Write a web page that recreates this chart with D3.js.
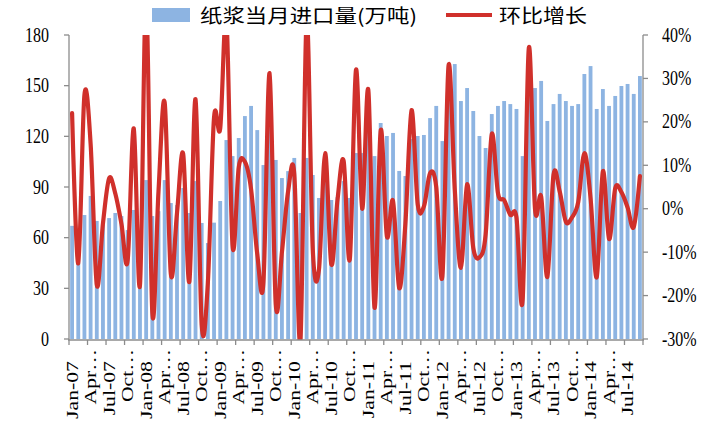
<!DOCTYPE html>
<html><head><meta charset="utf-8">
<script src="https://cdn.jsdelivr.net/npm/d3@7/dist/d3.min.js"></script>
<style>body{margin:0;background:#fff;}</style>
</head><body>
<svg id="chart" width="728" height="421"></svg>
<script>
// ---- data ----
const years = ["07","08","09","10","11","12","13","14"];
const monthNames = ["Jan","Feb","Mar","Apr","May","Jun","Jul","Aug","Sep","Oct","Nov","Dec"];
const pulpImports = [
  67, 58, 73.4, 84.7, 69.9, 67.5, 71.6, 74.6, 72.8, 64.5, 76.4, 63,
  94.1, 72.8, 75.7, 94.1, 80.5, 79.3, 89.4, 74.6, 93.5, 68.7, 56.8, 68.9,
  81.7, 117.8, 108.3, 119, 132, 138, 123.7, 103, 135.1, 106, 95.3, 99.4,
  107.2, 74.6, 107.2, 97.1, 83.5, 94.1, 82.3, 84, 93.5, 83.5, 110.1, 110.1,
  140.2, 108.3, 127.9, 120.2, 122, 99.5, 96.5, 118.4, 120.2, 120.8, 130.8, 138,
  117.2, 156, 162.8, 140.9, 148.6, 135, 120.2, 113.1, 133.2, 138, 140.9, 139.1,
  136.2, 108.3, 148.3, 148.6, 152.8, 129.1, 139.1, 145.1, 140.9, 138, 139.1, 156.9,
  161.6, 136.2, 148, 138, 143.9, 149.8, 151, 145.1, 155.7
];
const momGrowth = [
  22, -12.6, 26.2, 15, -17.5, -3.4, 7, 3.5, -3.5, -12, 18.5, -17.6,
  49, -24, 4, 24.5, -15, -1, 12.6, -16.8, 25.2, -26.8, -17, 21,
  18.5, 44, -8.5, 9.5, 10.8, 4.5, -10.4, -17, 31.2, -22, -10, 4,
  8, -30.3, 43.7, -9.4, -14, 12.8, -12.8, 2, 11, -11.6, 32, 0,
  27.3, -22.8, 18, -6.3, 1.8, -18.3, -3.5, 22.7, 1, 0.5, 8.2, 5,
  -15.5, 33, 4.5, -13.6, 5.6, -9, -11.2, -6, 17.2, 3.6, 2, -1.4,
  -2, -21, 37, 0, 2.8, -15.7, 7.8, 4, -3, -2, 1.5, 12.8,
  2.5, -15.8, 8.6, -7, 4.7, 3.8, 0.3, -4.2, 7.5
];
const xTickLabels = [
  "Jan-07","Apr…","Jul-07","Oct…","Jan-08","Apr…","Jul-08","Oct…",
  "Jan-09","Apr…","Jul-09","Oct…","Jan-10","Apr…","Jul-10","Oct…",
  "Jan-11","Apr…","Jul-11","Oct…","Jan-12","Apr…","Jul-12","Oct…",
  "Jan-13","Apr…","Jul-13","Oct…","Jan-14","Apr…","Jul-14"
];
const leftTicks = [0, 30, 60, 90, 120, 150, 180];
const rightTicks = [-0.3, -0.2, -0.1, 0, 0.1, 0.2, 0.3, 0.4];
const legendLabels = ["纸浆当月进口量(万吨)", "环比增长"];

// ---- build categories ----
const categories = [];
years.forEach(y => monthNames.forEach(m => categories.push(m + "-" + y)));
categories.length = pulpImports.length;

// ---- layout ----
const L = 69, R = 643, T = 35, B = 339;
const svg = d3.select("#chart");
const serif = "'Liberation Serif','Times New Roman',serif";
const axisColor = "#8c8c8c";
const barColor = "#8DB4E2";
const lineColor = "#D0302B";

const x = d3.scaleBand().domain(categories).range([L, R]).paddingInner(0.38).paddingOuter(0.19);
const xc = d => x(d) + x.bandwidth() / 2;
const yL = d3.scaleLinear().domain([0, 180]).range([B, T]);
const yR = d3.scaleLinear().domain([-0.3, 0.4]).range([B, T]);

// bars
svg.append("g").selectAll("rect").data(pulpImports).join("rect")
  .attr("x", (d, i) => x(categories[i]))
  .attr("width", x.bandwidth())
  .attr("y", d => yL(d))
  .attr("height", d => yL(0) - yL(d))
  .attr("fill", barColor);

// clip for line
svg.append("clipPath").attr("id", "plotclip").append("rect")
  .attr("x", L).attr("y", T).attr("width", R - L).attr("height", B - T + 1);

const line = d3.line()
  .x((d, i) => xc(categories[i]))
  .y(d => yR(d / 100))
  .curve(d3.curveCardinal.tension(0));
svg.append("path").datum(momGrowth)
  .attr("clip-path", "url(#plotclip)")
  .attr("d", line)
  .attr("fill", "none")
  .attr("stroke", lineColor)
  .attr("stroke-width", 4.2)
  .attr("stroke-linejoin", "round")
  .attr("stroke-linecap", "round");

// axes lines
const ax = svg.append("g").attr("stroke", axisColor).attr("stroke-width", 1.3).attr("fill", "none");
ax.append("line").attr("x1", L).attr("x2", L).attr("y1", T).attr("y2", B + 1);
ax.append("line").attr("x1", R).attr("x2", R).attr("y1", T).attr("y2", B + 1);
ax.append("line").attr("x1", L - 1).attr("x2", R + 1).attr("y1", B + 1).attr("y2", B + 1);

leftTicks.forEach(v => {
  ax.append("line").attr("x1", L - 5).attr("x2", L).attr("y1", yL(v)).attr("y2", yL(v));
});
rightTicks.forEach(v => {
  ax.append("line").attr("x1", R).attr("x2", R + 5).attr("y1", yR(v)).attr("y2", yR(v));
});
for (let k = 0; k <= categories.length; k += 3) {
  const px = L + (R - L) * k / categories.length;
  ax.append("line").attr("x1", px).attr("x2", px).attr("y1", B + 1).attr("y2", B + 6);
}

const sy = 1.3;
svg.append("g").selectAll("text").data(leftTicks).join("text")
  .attr("transform", d => `translate(49,${yL(d) + 6.5}) scale(1,${sy})`)
  .attr("text-anchor", "end")
  .attr("font-family", serif).attr("font-size", 16).attr("fill", "#000")
  .text(d => d);
svg.append("g").selectAll("text").data(rightTicks).join("text")
  .attr("transform", d => `translate(662,${yR(d) + 6.5}) scale(1,${sy})`)
  .attr("text-anchor", "start")
  .attr("font-family", serif).attr("font-size", 16).attr("fill", "#000")
  .text(d => Math.round(d * 100) + "%");

svg.append("g").selectAll("text").data(xTickLabels).join("text")
  .attr("transform", (d, i) => {
    const cx = xc(categories[i * 3]);
    const top = d.indexOf("…") >= 0 ? 349 : 361;
    return `translate(${cx + 5.5},${top}) rotate(-90) scale(1.36,1)`;
  })
  .attr("text-anchor", "end")
  .attr("font-family", serif).attr("font-size", 16).attr("fill", "#000")
  .text(d => d);

// legend
const lg = svg.append("g");
lg.append("rect").attr("x", 152).attr("y", 8).attr("width", 38).attr("height", 14).attr("fill", barColor);
lg.append("text").attr("x", 200).attr("y", 23)
  .attr("font-family", "'Noto Sans CJK SC',sans-serif").attr("font-size", 19)
  .attr("textLength", 217).attr("lengthAdjust", "spacingAndGlyphs")
  .text(legendLabels[0]);
lg.append("line").attr("x1", 446).attr("x2", 492).attr("y1", 15).attr("y2", 15)
  .attr("stroke", lineColor).attr("stroke-width", 4);
lg.append("text").attr("x", 499).attr("y", 23)
  .attr("font-family", "'Noto Sans CJK SC',sans-serif").attr("font-size", 19)
  .attr("textLength", 88).attr("lengthAdjust", "spacingAndGlyphs")
  .text(legendLabels[1]);
</script>
</body></html>
